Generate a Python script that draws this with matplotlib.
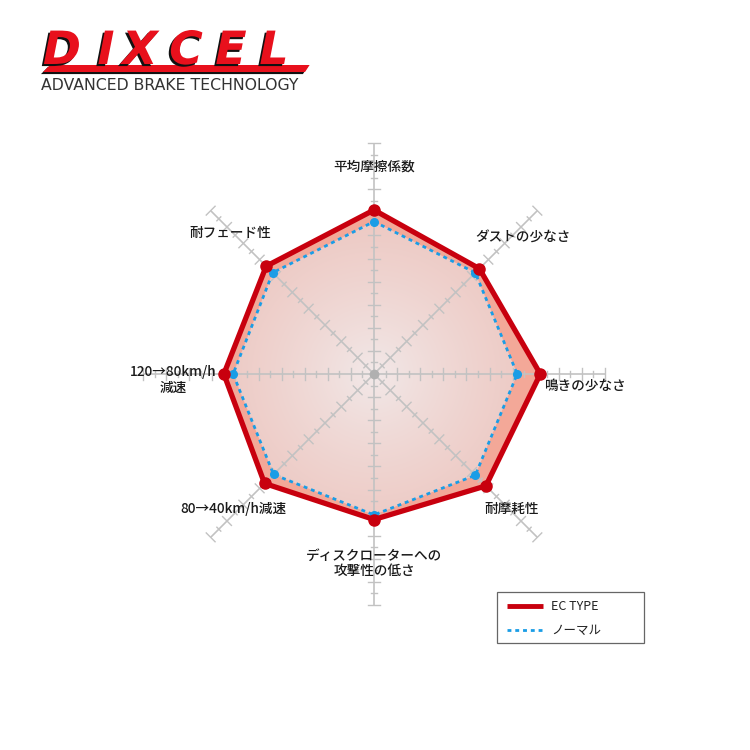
import numpy as np
import matplotlib
matplotlib.use("Agg")
import matplotlib.pyplot as plt
from matplotlib.patches import Polygon, Rectangle
import matplotlib.patheffects as pe

plt.rcParams['font.family'] = ['Noto Sans CJK JP', 'DejaVu Sans']

# ---- data (scale 0-10, clockwise from top) ----
labels = ['平均摩擦係数', 'ダストの少なさ', '鳴きの少なさ', '耐摩耗性',
          'ディスクローターへの\n攻撃性の低さ', '80→40km/h減速',
          '120→80km/h\n減速', '耐フェード性']
ec_type = [7.1, 6.45, 7.2, 6.85, 6.3, 6.7, 6.5, 6.6]
normal = [6.6, 6.2, 6.2, 6.2, 6.1, 6.15, 6.1, 6.2]
series_names = ['EC TYPE', 'ノーマル']
rmax = 10

# label anchor positions (axis units)
label_pos = [(0, 9.0), (6.45, 5.9), (9.15, -0.52), (5.97, -5.84),
             (0, -8.2), (-6.1, -5.84), (-8.7, -0.26), (-6.23, 6.1)]

RED = '#c8000e'
BLUE = '#1a9de6'
SALMON = '#f3a898'
GRID = '#c2c2c2'

S = 23.1          # pixels per unit
CX, CY = 374, 374  # centre in pixels


def px(x, y):
    return (x - CX) / S, (CY - y) / S


fig = plt.figure(figsize=(7.5, 7.5), dpi=100)
ax = fig.add_axes([0, 0, 1, 1])
ax.axis('off')

ang = np.deg2rad(90 - 45 * np.arange(len(labels)))


def xy(vals):
    v = np.asarray(vals)
    return v * np.cos(ang), v * np.sin(ang)


ex, ey = xy(ec_type)
nx, ny = xy(normal)

# fills
ec_poly = Polygon(np.column_stack([ex, ey]), closed=True, fc=SALMON, ec='none', zorder=1)
ax.add_patch(ec_poly)
n_poly = Polygon(np.column_stack([nx, ny]), closed=True, fc='none', ec='none', zorder=2)
ax.add_patch(n_poly)
g = np.linspace(-8, 8, 300)
gx, gy = np.meshgrid(g, g)
rr = np.clip(np.hypot(gx, gy) / 7.0, 0, 1) ** 0.8
c0 = np.array([0xf2, 0xea, 0xea]) / 255
c1 = np.array([0xed, 0xc8, 0xc2]) / 255
img = c0[None, None, :] * (1 - rr[..., None]) + c1[None, None, :] * rr[..., None]
im = ax.imshow(img, extent=(-8, 8, -8, 8), origin='lower', zorder=2,
               interpolation='bilinear')
im.set_clip_path(n_poly)
ax.set_xlim(-CX / S, (750 - CX) / S)
ax.set_ylim(-(750 - CY) / S, CY / S)

# spokes with ticks
for a in ang:
    ca, sa = np.cos(a), np.sin(a)
    ax.plot([0, rmax * ca], [0, rmax * sa], color=GRID, lw=1.2, zorder=3,
            solid_capstyle='butt')
    for t in np.arange(0.5, rmax + 0.01, 0.5):
        h = 0.27 if abs(t - round(t)) < 1e-6 else 0.12
        px0, py0 = t * ca, t * sa
        ax.plot([px0 - h * sa, px0 + h * sa], [py0 + h * ca, py0 - h * ca],
                color=GRID, lw=1.0, zorder=3)
ax.plot(0, 0, 'o', color='#b0b0b0', ms=6, zorder=3)

# series
ax.plot(np.append(nx, nx[0]), np.append(ny, ny[0]), color=BLUE, lw=2,
        ls=(0, (1.4, 1.4)), zorder=4)
ax.plot(nx, ny, 'o', color=BLUE, ms=5.5, zorder=4)
ax.plot(np.append(ex, ex[0]), np.append(ey, ey[0]), color=RED, lw=3.8,
        zorder=5, solid_joinstyle='miter')
ax.plot(ex, ey, 'o', color=RED, ms=8, zorder=6)

# axis labels
for lab, (lx, ly) in zip(labels, label_pos):
    ax.text(lx, ly, lab, ha='center', va='center', fontsize=9.8,
            weight='medium', color='#1a1a1a', linespacing=1.1, zorder=7)

# legend box
x0, y0 = px(497, 592)
x1, y1 = px(644, 643)
ax.add_patch(Rectangle((x0, y1), x1 - x0, y0 - y1, fc='white', ec='#666666',
                       lw=0.9, zorder=8))
lx0, ly = px(507, 606)
lx1, _ = px(543, 606)
ax.plot([lx0, lx1], [ly, ly], color=RED, lw=3.5, zorder=9, solid_capstyle='butt')
tx, _ = px(551, 606)
ax.text(tx, ly, series_names[0], ha='left', va='center', fontsize=9,
        color='#222222', zorder=9)
_, ly2 = px(507, 630)
ax.plot([lx0, lx1], [ly2, ly2], color=BLUE, lw=2, ls=(0, (1.4, 1.4)), zorder=9)
ax.text(tx, ly2, series_names[1], ha='left', va='center', fontsize=9,
        color='#222222', zorder=9)

# logo
bx0, by0 = px(50, 65)
bx1, by1 = px(305, 72)
ax.add_patch(Polygon([(bx0, by0), (bx1 + 0.2, by0), (bx1, by1), (bx0 - 0.3, by1)],
                     closed=True, fc='#e8101c', ec='none', zorder=8,
                     path_effects=[pe.SimplePatchShadow(offset=(-1.5, -1.5),
                                                        shadow_rgbFace='#111111', alpha=1),
                                   pe.Normal()]))
letters = 'DIXCEL'
lxs = [62, 106, 140, 186, 231, 274]
for ch, lxp in zip(letters, lxs):
    x_, y_ = px(lxp, 64)
    ax.text(x_, y_, ch, ha='center', va='baseline', fontsize=33,
            family='DejaVu Sans', weight='bold', style='italic', color='#e8101c',
            zorder=9,
            path_effects=[pe.withSimplePatchShadow(offset=(-1.5, -1.5),
                                                   shadow_rgbFace='#111111', alpha=1)])
tx0, ty0 = px(170, 86)
ax.text(tx0, ty0, 'ADVANCED BRAKE TECHNOLOGY', ha='center', va='center',
        fontsize=11.3, family='DejaVu Sans', color='#333333', zorder=9)

fig.savefig('out.png', dpi=100, facecolor='white')
